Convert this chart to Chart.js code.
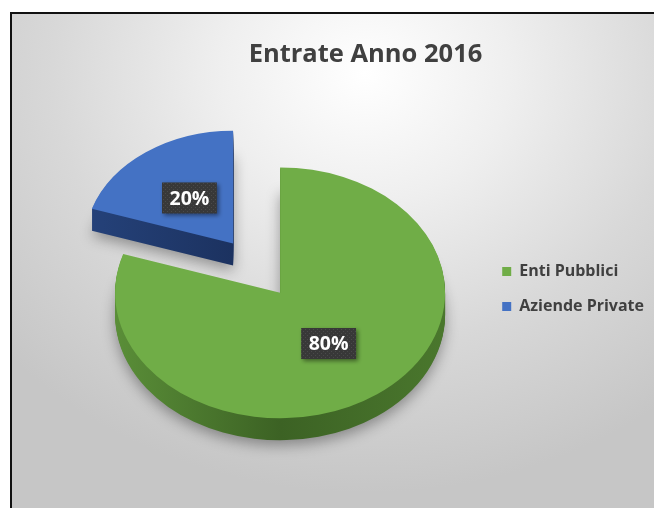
<!DOCTYPE html>
<html>
<head>
<meta charset="utf-8">
<script src="https://cdn.jsdelivr.net/npm/chart.js@4"></script>
<style>
  html, body { margin: 0; background: #fff; }
  #frame {
    position: absolute; left: 10px; top: 12px; width: 644px; height: 496px;
    box-sizing: border-box; border-top: 2px solid #111; border-left: 2px solid #111;
    background: radial-gradient(ellipse 75% 85% at 55% 12%, #ffffff 0%, #efefef 30%, #d8d8d8 65%, #c6c6c6 100%);
  }
  #wrap { position: absolute; left: 0; top: 0; width: 654px; height: 508px; }
</style>
</head>
<body>
<div id="frame"></div>
<div id="wrap"><canvas id="pieChart"></canvas></div>
<script>
// data
const categories = ['Enti Pubblici', 'Aziende Private'];
const values = [80, 20];

// styling
const faceColors = ['#70ad47', '#4472c4'];
const sideColors = [['#5a8e38', '#3c6224', '#4a772d'], ['#25427a', '#1c3260', '#1f3864']];
const explode = [0, 80];
const persp = [1, 0.9];   // far slice looks a bit smaller
const TILT = 0.76;   // vertical squash of the pie
const DEPTH = 22;    // thickness in px
const LEGEND_SHIFT = { x: 0, y: 28 };

function squash(ctx, cx, cy) {
  ctx.translate(cx, cy);
  ctx.scale(1, TILT);
  ctx.translate(-cx, -cy);
}

function paintArc(ctx, arc, fill) {
  // draw the library's arc element with another fill
  const p = Object.create(arc);
  p.options = Object.assign({}, arc.options, { backgroundColor: fill, borderWidth: 0 });
  p.draw(ctx);
}

// dotted dark fill for the value boxes
function labelPattern(ctx) {
  const c = document.createElement('canvas');
  c.width = 4; c.height = 4;
  const g = c.getContext('2d');
  g.fillStyle = '#383838';
  g.fillRect(0, 0, 4, 4);
  g.fillStyle = '#4a4a4a';
  g.fillRect(1, 1, 1, 1);
  g.fillRect(3, 3, 1, 1);
  return ctx.createPattern(c, 'repeat');
}

const pie3d = {
  id: 'pie3d',
  beforeDatasetsDraw(chart) {
    const ctx = chart.ctx;
    const arcs = chart.getDatasetMeta(0).data;

    const place = (arc, i, dy) => {
      const mid = (arc.startAngle + arc.endAngle) / 2;
      ctx.translate(Math.cos(mid) * explode[i], Math.sin(mid) * explode[i] * TILT + dy);
      ctx.translate(arc.x, arc.y);
      ctx.scale(persp[i], persp[i]);
      ctx.translate(-arc.x, -arc.y);
      squash(ctx, arc.x, arc.y);
    };

    // sides
    for (let d = DEPTH; d >= 1; d--) {
      arcs.forEach((arc, i) => {
        ctx.save();
        if (d === DEPTH) {
          ctx.shadowColor = 'rgba(0,0,0,0.35)';
          ctx.shadowBlur = 14;
          ctx.shadowOffsetY = 5;
        }
        place(arc, i, d);
        const r = arc.outerRadius;
        const g = ctx.createLinearGradient(arc.x - r, 0, arc.x + r, 0);
        g.addColorStop(0, sideColors[i][0]);
        g.addColorStop(0.5, sideColors[i][1]);
        g.addColorStop(1, sideColors[i][2]);
        paintArc(ctx, arc, g);
        ctx.restore();
      });
    }
    // top faces
    arcs.forEach((arc, i) => {
      ctx.save();
      place(arc, i, 0);
      paintArc(ctx, arc, arc.options.backgroundColor);
      ctx.restore();
    });

    // percentage labels
    const total = values.reduce((a, b) => a + b, 0);
    const pat = labelPattern(ctx);
    ctx.save();
    ctx.font = 'bold 19.5px "Open Sans"';
    ctx.textAlign = 'center';
    ctx.textBaseline = 'middle';
    arcs.forEach((arc, i) => {
      const mid = (arc.startAngle + arc.endAngle) / 2;
      const pos = arc.tooltipPosition(true);
      const x = arc.x + Math.cos(mid) * explode[i] + (pos.x - arc.x) * persp[i];
      const y = arc.y + Math.sin(mid) * explode[i] * TILT + (pos.y - arc.y) * TILT * persp[i];
      const txt = Math.round(values[i] / total * 100) + '%';
      const w = ctx.measureText(txt).width + 15, h = 31;
      ctx.save();
      ctx.shadowColor = 'rgba(0,0,0,0.45)';
      ctx.shadowBlur = 4;
      ctx.shadowOffsetX = 2;
      ctx.shadowOffsetY = 2;
      ctx.fillStyle = pat;
      ctx.fillRect(x - w / 2, y - h / 2, w, h);
      ctx.restore();
      ctx.fillStyle = '#ffffff';
      ctx.fillText(txt, x, y + 1);
    });
    ctx.restore();
    return false;
  }
};

const legendNudge = {
  id: 'legendNudge',
  afterLayout(chart) {
    const lg = chart.legend;
    lg.left += LEGEND_SHIFT.x; lg.right += LEGEND_SHIFT.x;
    lg.top += LEGEND_SHIFT.y; lg.bottom += LEGEND_SHIFT.y;
  }
};

new Chart(document.getElementById('pieChart'), {
  type: 'pie',
  data: {
    labels: categories,
    datasets: [{
      data: values,
      backgroundColor: faceColors,
      borderWidth: 0,
      radius: 165
    }]
  },
  options: {
    responsive: true,
    maintainAspectRatio: false,
    animation: false,
    layout: { padding: { left: 77, right: 0, top: 14, bottom: 0 } },
    plugins: {
      tooltip: { enabled: false },
      title: {
        display: true,
        text: 'Entrate Anno 2016',
        color: '#404040',
        font: { family: 'Open Sans', size: 25.5, weight: 'bold' },
        padding: { top: 25, bottom: 8 }
      },
      legend: {
        position: 'right',
        labels: {
          color: '#404040',
          font: { family: 'Open Sans', size: 16, weight: 'bold' },
          boxWidth: 9,
          boxHeight: 9,
          padding: 19
        }
      }
    }
  },
  plugins: [pie3d, legendNudge]
});
</script>
</body>
</html>
